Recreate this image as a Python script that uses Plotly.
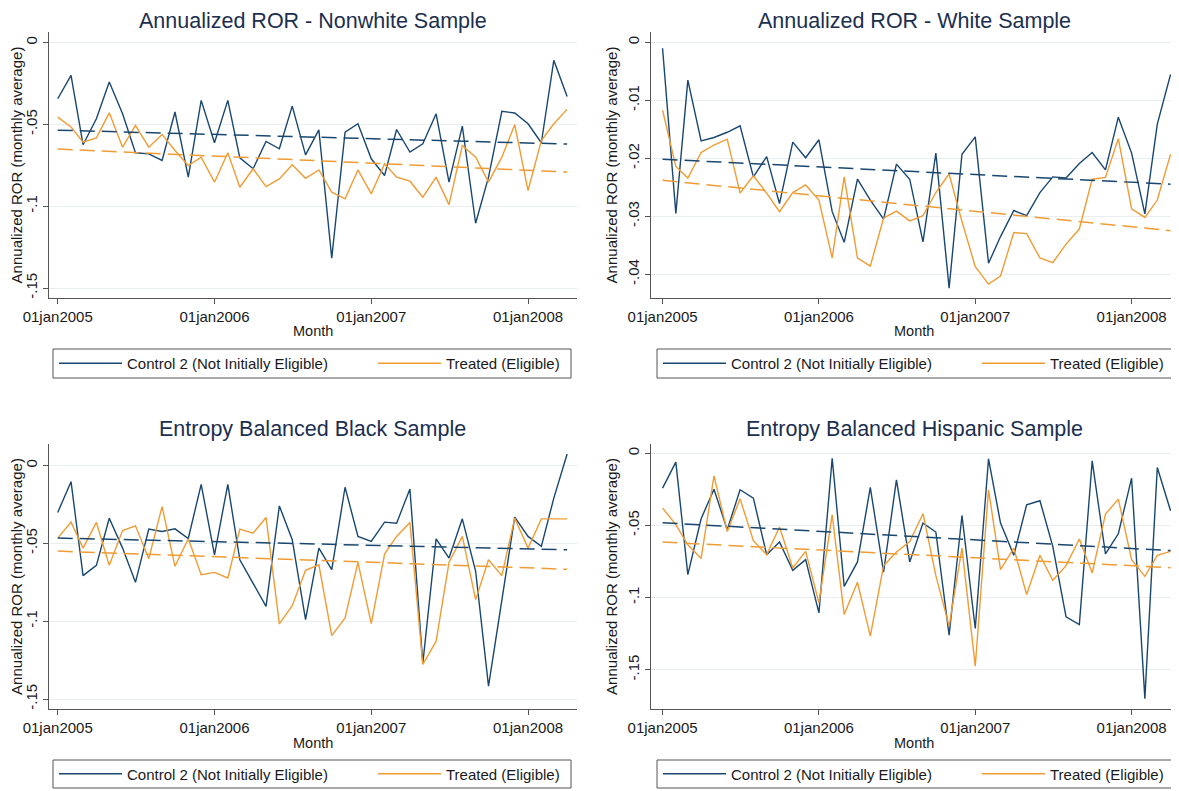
import numpy as np
import pandas as pd
import plotly.graph_objects as go

# ---------------- data ----------------
months = pd.date_range("2005-01-01", periods=40, freq="MS")

nonwhite_control = [-0.0343, -0.0200, -0.0624, -0.0465, -0.0240, -0.0435, -0.0673, -0.0680, -0.0720, -0.0424,
                    -0.0822, -0.0353, -0.0612, -0.0353, -0.0704, -0.0771, -0.0604, -0.0649, -0.0388, -0.0686,
                    -0.0533, -0.1318, -0.0547, -0.0496, -0.0710, -0.0812, -0.0531, -0.0669, -0.0618, -0.0435,
                    -0.0853, -0.0510, -0.1104, -0.0822, -0.0420, -0.0430, -0.0496, -0.0612, -0.0108, -0.0329]
nonwhite_treated = [-0.0455, -0.0516, -0.0608, -0.0582, -0.0429, -0.0639, -0.0506, -0.0639, -0.0561, -0.0659,
                    -0.0751, -0.0700, -0.0853, -0.0673, -0.0884, -0.0771, -0.0880, -0.0833, -0.0747, -0.0829,
                    -0.0778, -0.0914, -0.0955, -0.0778, -0.0924, -0.0741, -0.0822, -0.0847, -0.0945, -0.0822,
                    -0.0990, -0.0629, -0.0700, -0.0853, -0.0700, -0.0502, -0.0904, -0.0598, -0.0496, -0.0408]

white_control = [-0.0010, -0.0295, -0.0065, -0.0170, -0.0164, -0.0155, -0.0144, -0.0232, -0.0197, -0.0278,
                 -0.0172, -0.0199, -0.0168, -0.0292, -0.0345, -0.0236, -0.0272, -0.0305, -0.0210, -0.0236,
                 -0.0344, -0.0191, -0.0424, -0.0193, -0.0163, -0.0381, -0.0335, -0.0290, -0.0299, -0.0259,
                 -0.0232, -0.0234, -0.0209, -0.0190, -0.0220, -0.0129, -0.0191, -0.0296, -0.0141, -0.0055]
white_treated = [-0.0117, -0.0214, -0.0234, -0.0190, -0.0177, -0.0167, -0.0260, -0.0230, -0.0260, -0.0292,
                 -0.0259, -0.0246, -0.0272, -0.0372, -0.0232, -0.0372, -0.0386, -0.0303, -0.0291, -0.0308,
                 -0.0299, -0.0259, -0.0227, -0.0309, -0.0387, -0.0417, -0.0403, -0.0328, -0.0330, -0.0372,
                 -0.0380, -0.0348, -0.0322, -0.0236, -0.0233, -0.0166, -0.0287, -0.0302, -0.0272, -0.0193]

black_control = [-0.0301, -0.0103, -0.0707, -0.0641, -0.0338, -0.0530, -0.0750, -0.0408, -0.0423, -0.0406,
                 -0.0468, -0.0120, -0.0573, -0.0120, -0.0605, -0.0754, -0.0904, -0.0259, -0.0476, -0.0989,
                 -0.0530, -0.0669, -0.0139, -0.0455, -0.0487, -0.0363, -0.0370, -0.0150, -0.1271, -0.0470,
                 -0.0594, -0.0342, -0.0679, -0.1417, -0.0870, -0.0331, -0.0455, -0.0519, -0.0209, 0.0075]
black_treated = [-0.0466, -0.0363, -0.0530, -0.0365, -0.0641, -0.0417, -0.0387, -0.0598, -0.0263, -0.0647,
                 -0.0470, -0.0701, -0.0686, -0.0722, -0.0408, -0.0434, -0.0333, -0.1017, -0.0900, -0.0673,
                 -0.0637, -0.1092, -0.0979, -0.0622, -0.1015, -0.0568, -0.0455, -0.0365, -0.1278, -0.1128,
                 -0.0622, -0.0455, -0.0861, -0.0605, -0.0707, -0.0338, -0.0530, -0.0342, -0.0342, -0.0342]

hispanic_control = [-0.0242, -0.0062, -0.0841, -0.0454, -0.0249, -0.0530, -0.0253, -0.0311, -0.0703, -0.0615,
                    -0.0811, -0.0737, -0.1106, -0.0035, -0.0922, -0.0753, -0.0237, -0.0823, -0.0184, -0.0753,
                    -0.0484, -0.0546, -0.1260, -0.0431, -0.1214, -0.0039, -0.0484, -0.0707, -0.0357, -0.0329,
                    -0.0645, -0.1134, -0.1187, -0.0053, -0.0698, -0.0558, -0.0173, -0.1700, -0.0099, -0.0399]
hispanic_treated = [-0.0380, -0.0495, -0.0634, -0.0730, -0.0157, -0.0542, -0.0316, -0.0606, -0.0703, -0.0511,
                    -0.0795, -0.0680, -0.1037, -0.0426, -0.1118, -0.0894, -0.1267, -0.0779, -0.0684, -0.0611,
                    -0.0419, -0.0848, -0.1198, -0.0657, -0.1475, -0.0253, -0.0806, -0.0657, -0.0979, -0.0707,
                    -0.0880, -0.0779, -0.0594, -0.0829, -0.0422, -0.0318, -0.0737, -0.0853, -0.0707, -0.0680]

panel_titles = ["Annualized ROR - Nonwhite Sample", "Annualized ROR - White Sample",
                "Entropy Balanced Black Sample", "Entropy Balanced Hispanic Sample"]
series_names = ["Control 2 (Not Initially Eligible)", "Treated (Eligible)"]
x_tick_dates = ["2005-01-01", "2006-01-01", "2007-01-01", "2008-01-01"]
x_tick_labels = ["01jan2005", "01jan2006", "01jan2007", "01jan2008"]
y_ticks_a = [-0.15, -0.1, -0.05, 0]
y_labels_a = ["-.15", "-.1", "-.05", "0"]
y_ticks_b = [-0.04, -0.03, -0.02, -0.01, 0]
y_labels_b = ["-.04", "-.03", "-.02", "-.01", "0"]
y_axis_title = "Annualized ROR (monthly average)"
x_axis_title = "Month"

# ---------------- style ----------------
OFF = 8                      # default page margin of the html body
W, H = 1179 - OFF, 791 - OFF
NAVY = "#1a476f"
ORANGE = "#F09C35"
TITLE_C = "#1c2f4f"
AXIS_C = "#555555"
GRID_C = "#e9eef0"
TXT = "#1a1a1a"
FONT = "Liberation Sans, Arial, sans-serif"
ITEMW = 63
TICK_FS = 15
TITLE_FS = 21.5


def px_x(p):
    return (p - OFF) / W


def px_y(p):
    return 1 - (p - OFF) / H


panels = [
    dict(ctrl=nonwhite_control, trt=nonwhite_treated, xd=(48.7, 577), yd=(32, 298),
         xr=["2004-12-11", "2008-04-24"], yr=[-0.1561, 0.0065], yt=(y_ticks_a, y_labels_a),
         leg=(53, 571, 349, 378), month_y=331, title_y=None, dx=0),
    dict(ctrl=white_control, trt=white_treated, xd=(651, 1177), yd=(32, 298),
         xr=["2004-12-05", "2008-04-16"], yr=[-0.0441, 0.0018], yt=(y_ticks_b, y_labels_b),
         leg=(657, 1174, 349, 378), month_y=331, title_y=None, dx=604),
    dict(ctrl=black_control, trt=black_treated, xd=(48.7, 577), yd=(444, 709),
         xr=["2004-12-11", "2008-04-24"], yr=[-0.1564, 0.0139], yt=(y_ticks_a, y_labels_a),
         leg=(53, 571, 760, 788), month_y=743, title_y=429, dx=0),
    dict(ctrl=hispanic_control, trt=hispanic_treated, xd=(651, 1177), yd=(444, 709),
         xr=["2004-12-05", "2008-04-16"], yr=[-0.1772, 0.0064], yt=(y_ticks_a, y_labels_a),
         leg=(657, 1174, 760, 788), month_y=743, title_y=429, dx=604),
]
legend_item_left = [54, 373]   # left edge of each legend entry in the left-hand panels

fig = go.Figure()
day_idx = np.array((months - months[0]).days, dtype=float)
annotations = []
shapes = []
layout_extra = {}

for i, p in enumerate(panels):
    n = "" if i == 0 else str(i + 1)
    xa, ya = "x" + n, "y" + n
    l, r, t, bt = p["leg"]
    for j, (vals, color, name) in enumerate([(p["ctrl"], NAVY, series_names[0]),
                                              (p["trt"], ORANGE, series_names[1])]):
        k = 2 * i + j + 1
        legname = "legend" if k == 1 else "legend" + str(k)
        fig.add_trace(go.Scatter(x=months, y=vals, mode="lines", name=name,
                                 line=dict(color=color, width=1.4), xaxis=xa, yaxis=ya,
                                 legend=legname, showlegend=True))
        layout_extra[legname] = dict(
            orientation="h", x=px_x(legend_item_left[j] + p["dx"]), y=px_y((t + bt) / 2),
            xanchor="left", yanchor="middle", itemwidth=ITEMW,
            bgcolor="rgba(0,0,0,0)", borderwidth=0,
            font=dict(size=TICK_FS, color=TXT, family=FONT), itemclick=False, itemdoubleclick=False)
    for vals, color in [(p["ctrl"], NAVY), (p["trt"], ORANGE)]:
        b, a = np.polyfit(day_idx, np.array(vals), 1)
        fit = a + b * day_idx
        fig.add_trace(go.Scatter(x=months, y=fit, mode="lines", showlegend=False,
                                 line=dict(color=color, width=1.5, dash="15px,7px"),
                                 xaxis=xa, yaxis=ya, hoverinfo="skip"))

    xdom = [px_x(p["xd"][0]), px_x(p["xd"][1])]
    ydom = [px_y(p["yd"][1]), px_y(p["yd"][0])]
    layout_extra["xaxis" + n] = dict(
        domain=xdom, range=p["xr"], type="date", anchor=ya,
        tickvals=x_tick_dates, ticktext=x_tick_labels, tickangle=0,
        showline=True, linecolor=AXIS_C, linewidth=1, ticks="outside", ticklen=5,
        tickcolor=AXIS_C, showgrid=False, zeroline=False,
        tickfont=dict(size=TICK_FS, color=TXT, family=FONT), automargin=False)
    layout_extra["yaxis" + n] = dict(
        domain=ydom, range=p["yr"], anchor=xa,
        tickvals=p["yt"][0], ticktext=p["yt"][1], tickangle=-90,
        showline=True, linecolor=AXIS_C, linewidth=1, ticks="outside", ticklen=5,
        tickcolor=AXIS_C, showgrid=True, gridcolor=GRID_C, gridwidth=1, zeroline=False,
        tickfont=dict(size=TICK_FS, color=TXT, family=FONT), automargin=False,
        title=dict(text=y_axis_title, font=dict(size=TICK_FS, color=TXT, family=FONT), standoff=3))

    xc = (xdom[0] + xdom[1]) / 2
    if p["title_y"] is None:
        ty, tanchor = 1.0, "top"
    else:
        ty, tanchor = px_y(p["title_y"]), "middle"
    annotations.append(dict(text=panel_titles[i], x=xc, y=ty, xref="paper", yref="paper",
                            showarrow=False, xanchor="center", yanchor=tanchor, borderpad=0,
                            font=dict(size=TITLE_FS, color=TITLE_C, family=FONT)))
    annotations.append(dict(text=x_axis_title, x=xc, y=px_y(p["month_y"]), xref="paper", yref="paper",
                            showarrow=False, xanchor="center", yanchor="middle",
                            font=dict(size=14.5, color=TXT, family=FONT)))
    shapes.append(dict(type="rect", xref="paper", yref="paper", x0=px_x(l), x1=px_x(r),
                       y0=px_y(bt), y1=px_y(t), line=dict(color=AXIS_C, width=1),
                       fillcolor="rgba(0,0,0,0)"))

fig.update_layout(
    width=W, height=H, margin=dict(l=0, r=0, t=0, b=0),
    paper_bgcolor="white", plot_bgcolor="white",
    annotations=annotations, shapes=shapes, **layout_extra)

fig.write_html("out.html")
